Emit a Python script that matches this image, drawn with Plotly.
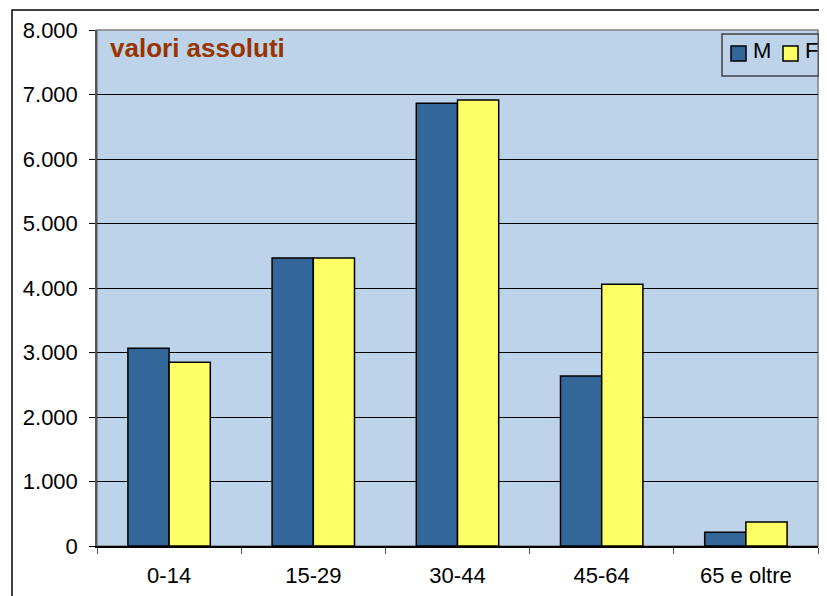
import plotly.graph_objects as go

categories = ["0-14", "15-29", "30-44", "45-64", "65 e oltre"]
series_names = ["M", "F"]
maschi = [3065, 4465, 6865, 2635, 215]
femmine = [2850, 4465, 6915, 4060, 372]
y_ticks = [0, 1000, 2000, 3000, 4000, 5000, 6000, 7000, 8000]
colors = ["#336699", "#FFFF66"]

OFF = 8  # page body margin
W, H = 827 - OFF, 596 - OFF
left, right, top, bottom = 97, 818, 30, 546  # plot area in page pixels
ml, mt = left - OFF, top - OFF
mr, mb = 827 - right, 596 - bottom
pw, ph = right - left, bottom - top


def px_x(px):
    return (px - left) / pw


def px_y(py):
    return (bottom - py) / ph


fig = go.Figure()
for name, vals, col in zip(series_names, [maschi, femmine], colors):
    fig.add_trace(go.Bar(name=name, x=categories, y=vals,
                         marker=dict(color=col, line=dict(color="black", width=1.5))))

font = "Liberation Sans, Arial, sans-serif"
fig.update_layout(
    width=W, height=H,
    margin=dict(l=ml, r=mr, t=mt, b=mb, pad=0, autoexpand=False),
    paper_bgcolor="white", plot_bgcolor="#BDD3E9",
    barmode="group", bargap=0.4286, bargroupgap=0,
    separators=",.",
    font=dict(family=font, size=20, color="black"),
    showlegend=False,
    xaxis=dict(showline=True, linecolor="black", linewidth=1.5, ticks="outside",
               tickson="boundaries", ticklen=6, tickcolor="#555555", automargin=False,
               ticklabelstandoff=9,
               tickfont=dict(family=font, size=22), showgrid=False),
    yaxis=dict(range=[0, 8000], tickvals=y_ticks, tickformat=",d", showgrid=True,
               gridcolor="black", gridwidth=1.2, showline=True, linecolor="#555555",
               linewidth=1.5, ticks="outside", ticklen=6, tickcolor="black",
               ticklabelstandoff=7,
               automargin=False, tickfont=dict(family=font, size=22), zeroline=False),
)

fig.add_shape(type="rect", xref="paper", yref="paper", x0=0, x1=1, y0=0, y1=1,
              line=dict(color="#808080", width=1.5), layer="below")
fig.add_shape(type="rect", xref="paper", yref="paper",
              x0=px_x(12), x1=1.2, y0=-0.3, y1=px_y(10),
              line=dict(color="black", width=1.5), layer="above")

# legend box
fig.add_shape(type="rect", xref="paper", yref="paper",
              x0=px_x(722), x1=px_x(819), y0=px_y(76), y1=px_y(34),
              line=dict(color="#404040", width=1.5), layer="above")
sq = [(731, 746, 751), (783, 798, 803)]
for (x0, x1, tx), name, col in zip(sq, series_names, colors):
    fig.add_shape(type="rect", xref="paper", yref="paper",
                  x0=px_x(x0), x1=px_x(x1), y0=px_y(61), y1=px_y(46),
                  fillcolor=col, line=dict(color="black", width=1.5), layer="above")
    fig.add_annotation(text=name, xref="paper", yref="paper", x=px_x(tx), y=px_y(51),
                       xanchor="left", yanchor="middle", showarrow=False,
                       font=dict(family=font, size=22, color="black"))

fig.add_annotation(text="<b>valori assoluti</b>", xref="paper", yref="paper",
                   x=px_x(108), y=px_y(31), xanchor="left", yanchor="top",
                   showarrow=False, font=dict(family=font, size=26, color="#993300"))

fig.write_html("out.html")
